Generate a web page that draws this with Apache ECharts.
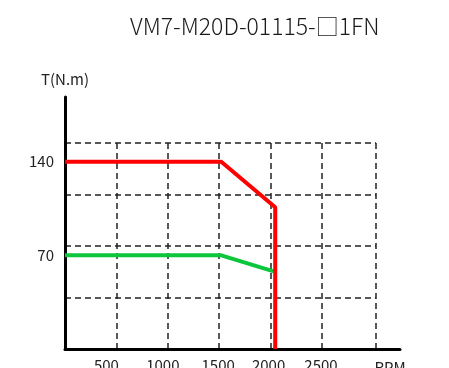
<!DOCTYPE html>
<html><head><meta charset="utf-8">
<script src="https://cdn.jsdelivr.net/npm/echarts@6/dist/echarts.min.js"></script>
<style>html,body{margin:0;padding:0;background:#fff}#c{width:449px;height:368px}</style>
</head><body><div id="c"></div>
<script>
const titleText = 'VM7-M20D-01115-□1FN';
const yAxisName = 'T(N.m)';
const xAxisName = 'RPM';
const xTickLabels = [500, 1000, 1500, 2000, 2500];
const yTickLabels = [70, 140];
const peakRpm = [0, 1520, 2045, 2045];
const peakTorque = [140, 140, 106, 0];
const ratedRpm = [0, 1520, 2030];
const ratedTorque = [70, 70, 58];

const FONT = 'Noto Sans CJK SC';
const xStep = 500, xLast = 2500, yGridMax = 154;
const pxPerRpm = (322 - 65) / xLast;
const xAxisMax = (400 - 65) / pxPerRpm;
const yAxisMax = yGridMax * (349 - 97) / (349 - 143);
const labelShift = {500: 10, 1000: 5, 1500: 1, 2000: 2, 2500: 1};
const rich = {};
Object.keys(labelShift).forEach(k => { rich['s' + k] = {padding: [0, labelShift[k] * 2, 0, 0], fontSize: 15, color: '#222', fontFamily: FONT}; });
const dash = {color: '#222', width: 1.5, type: [6, 4]};

const chart = echarts.init(document.getElementById('c'), null, {renderer: 'canvas'});
chart.setOption({
  animation: false,
  backgroundColor: '#fff',
  textStyle: {fontFamily: FONT},
  title: {text: titleText, left: 125, top: 10, textStyle: {fontSize: 23, fontWeight: 300, color: '#1a1a1a', fontFamily: FONT}},
  grid: [
    {left: 65, right: 49, top: 97, bottom: 19, outerBoundsMode: 'none', containLabel: false},
    {left: 65, right: 73, top: 143, bottom: 19, outerBoundsMode: 'none', containLabel: false},
    {left: 65, right: 449 - 322, top: 143, bottom: 19, outerBoundsMode: 'none', containLabel: false}
  ],
  xAxis: [
    {gridIndex: 0, type: 'value', min: 0, max: xAxisMax, interval: xStep,
     axisLine: {show: true, lineStyle: {color: '#000', width: 3}}, axisTick: {show: false}, splitLine: {show: false},
     axisLabel: {margin: 9, rich: rich, formatter: v => xTickLabels.includes(v) ? '{s' + v + '|' + v + '}' : ''},
     name: xAxisName, nameLocation: 'end', nameGap: -10,
     nameTextStyle: {align: 'center', verticalAlign: 'top', padding: [11, 0, 0, 0], fontSize: 15, color: '#222', fontFamily: FONT}},
    {gridIndex: 1, type: 'value', min: 0, max: 1, interval: 1,
     axisLine: {show: false}, axisTick: {show: false}, axisLabel: {show: false},
     splitLine: {show: true, lineStyle: dash}},
    {gridIndex: 2, type: 'value', min: 0, max: xLast, interval: xStep,
     axisLine: {show: false}, axisTick: {show: false}, axisLabel: {show: false},
     splitLine: {show: true, lineStyle: dash}}
  ],
  yAxis: [
    {gridIndex: 0, type: 'value', min: 0, max: yAxisMax, interval: 70,
     axisLine: {show: true, lineStyle: {color: '#000', width: 3}}, axisTick: {show: false}, splitLine: {show: false},
     axisLabel: {margin: 11, fontSize: 15, color: '#222', fontFamily: FONT, formatter: v => yTickLabels.includes(v) ? String(v) : ''},
     name: yAxisName, nameLocation: 'end', nameGap: 10,
     nameTextStyle: {fontSize: 15, color: '#222', fontFamily: FONT}},
    {gridIndex: 1, type: 'value', min: 0, max: yGridMax, interval: yGridMax / 4,
     axisLine: {show: false}, axisTick: {show: false}, axisLabel: {show: false},
     splitLine: {show: true, lineStyle: dash}},
    {gridIndex: 2, type: 'value', min: 0, max: yGridMax, interval: yGridMax / 4,
     axisLine: {show: false}, axisTick: {show: false}, axisLabel: {show: false},
     splitLine: {show: false}}
  ],
  series: [
    {type: 'line', xAxisIndex: 2, yAxisIndex: 2, symbol: 'none', clip: false, z: 4,
     data: ratedRpm.map((x, i) => [x, ratedTorque[i]]), lineStyle: {color: '#0cc63c', width: 4}},
    {type: 'line', xAxisIndex: 2, yAxisIndex: 2, symbol: 'none', clip: false, z: 5,
     data: peakRpm.map((x, i) => [x, peakTorque[i]]), lineStyle: {color: '#ff0000', width: 4}}
  ]
});
</script></body></html>
